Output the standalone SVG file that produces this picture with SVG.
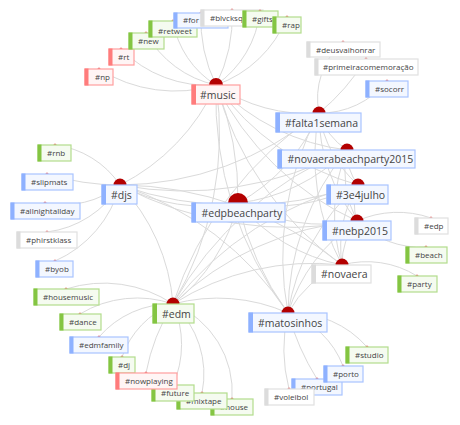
<svg xmlns="http://www.w3.org/2000/svg" width="460" height="425" viewBox="0 0 460 425">
<style>
.e{fill:none;stroke:#dadada;stroke-width:1}
.hub{fill:#b30000}
.tk{fill:#e57373}
text{font-family:"Open Sans","Liberation Sans",sans-serif;fill:#444}
.lg{font-size:10.5px}
.sm{font-size:8px}
.box{stroke-width:1.2}
.red .box{fill:#fff5f5;stroke:#ff9e9e}.red .bar{fill:#ff7c7c}
.blue .box{fill:#f3f7ff;stroke:#a9c4ff}.blue .bar{fill:#8eb1ff}
.green .box{fill:#f5fbf0;stroke:#b2dd8c}.green .bar{fill:#84c542}
.gray .box{fill:#fff;stroke:#e0e0e0}.gray .bar{fill:#dcdcdc}
</style>
<rect width="460" height="425" fill="#fff"/>
<g id="connectors">
<path class="e" d="M216 85A142 142 0 0 1 99 69"/>
<path class="e" d="M216 85A122 122 0 0 1 121 49"/>
<path class="e" d="M216 85A105 105 0 0 1 146 33"/>
<path class="e" d="M216 85A93 93 0 0 1 173 21"/>
<path class="e" d="M216 85A150 150 0 0 1 201 13"/>
<path class="e" d="M216 85A150 150 0 0 0 232 10"/>
<path class="e" d="M216 85A103 103 0 0 0 260 11"/>
<path class="e" d="M216 85A118 118 0 0 0 287 17"/>
<path class="e" d="M319 113A75 75 0 0 1 343 42"/>
<path class="e" d="M319 113A220 220 0 0 0 366 59"/>
<path class="e" d="M319 113A85 85 0 0 0 387 81"/>
<path class="e" d="M120 185A92 92 0 0 0 55 145"/>
<path class="e" d="M120 185A250 250 0 0 1 47 174"/>
<path class="e" d="M120 185A92 92 0 0 1 45 203"/>
<path class="e" d="M120 185A100 100 0 0 1 47 232"/>
<path class="e" d="M120 185A115 115 0 0 1 55 261"/>
<path class="e" d="M357 221A100 100 0 0 1 431 218"/>
<path class="e" d="M357 221A90 90 0 0 0 426 247"/>
<path class="e" d="M342 265A95 95 0 0 1 417 276"/>
<path class="e" d="M173 304A125 125 0 0 0 66 289"/>
<path class="e" d="M173 304A110 110 0 0 0 80 314"/>
<path class="e" d="M173 304A95 95 0 0 0 99 337"/>
<path class="e" d="M173 304A88 88 0 0 0 122 357"/>
<path class="e" d="M173 304A200 200 0 0 0 146 373"/>
<path class="e" d="M173 304A100 100 0 0 1 173 385"/>
<path class="e" d="M173 304A95 95 0 0 1 202 393"/>
<path class="e" d="M173 304A95 95 0 0 1 232 399"/>
<path class="e" d="M288 313A100 100 0 0 1 367 347"/>
<path class="e" d="M288 313A90 90 0 0 1 343 366"/>
<path class="e" d="M288 313A250 250 0 0 0 317 379"/>
<path class="e" d="M288 313A160 160 0 0 0 289 389"/>
<path class="e" d="M216 85A160 160 0 0 0 319 113"/>
<path class="e" d="M216 85A219 219 0 0 0 347 150"/>
<path class="e" d="M216 85A261 261 0 0 0 358 185"/>
<path class="e" d="M216 85A294 294 0 0 0 357 221"/>
<path class="e" d="M216 85A330 330 0 0 0 342 265"/>
<path class="e" d="M216 85A208 208 0 0 1 120 185"/>
<path class="e" d="M216 85A300 300 0 0 1 238 203"/>
<path class="e" d="M216 85A335 335 0 0 1 173 304"/>
<path class="e" d="M216 85A359 359 0 0 0 288 313"/>
<path class="e" d="M319 113A70 70 0 0 0 347 150"/>
<path class="e" d="M319 113A123 123 0 0 0 358 185"/>
<path class="e" d="M319 113A172 172 0 0 0 357 221"/>
<path class="e" d="M319 113A231 231 0 0 0 342 265"/>
<path class="e" d="M319 113A317 317 0 0 1 120 185"/>
<path class="e" d="M319 113A182 182 0 0 1 238 203"/>
<path class="e" d="M319 113A360 360 0 0 0 173 304"/>
<path class="e" d="M319 113A304 304 0 0 0 288 313"/>
<path class="e" d="M347 150A55 55 0 0 0 358 185"/>
<path class="e" d="M347 150A108 108 0 0 0 357 221"/>
<path class="e" d="M347 150A173 173 0 0 0 342 265"/>
<path class="e" d="M347 150A345 345 0 0 1 120 185"/>
<path class="e" d="M347 150A182 182 0 0 1 238 203"/>
<path class="e" d="M347 150A349 349 0 0 0 173 304"/>
<path class="e" d="M347 150A260 260 0 0 0 288 313"/>
<path class="e" d="M358 185A54 54 0 0 0 357 221"/>
<path class="e" d="M358 185A122 122 0 0 0 342 265"/>
<path class="e" d="M358 185A357 357 0 0 1 120 185"/>
<path class="e" d="M358 185A182 182 0 0 1 238 203"/>
<path class="e" d="M358 185A330 330 0 0 0 173 304"/>
<path class="e" d="M358 185A219 219 0 0 0 288 313"/>
<path class="e" d="M357 221A70 70 0 0 0 342 265"/>
<path class="e" d="M357 221A360 360 0 0 1 120 185"/>
<path class="e" d="M357 221A181 181 0 0 1 238 203"/>
<path class="e" d="M357 221A303 303 0 0 0 173 304"/>
<path class="e" d="M357 221A173 173 0 0 0 288 313"/>
<path class="e" d="M342 265A354 354 0 0 0 120 185"/>
<path class="e" d="M342 265A182 182 0 0 1 238 203"/>
<path class="e" d="M342 265A260 260 0 0 0 173 304"/>
<path class="e" d="M342 265A108 108 0 0 0 288 313"/>
<path class="e" d="M120 185A179 179 0 0 0 238 203"/>
<path class="e" d="M120 185A195 195 0 0 1 173 304"/>
<path class="e" d="M120 185A317 317 0 0 1 288 313"/>
<path class="e" d="M238 203A180 180 0 0 1 173 304"/>
<path class="e" d="M238 203A300 300 0 0 0 288 313"/>
<path class="e" d="M173 304A173 173 0 0 1 288 313"/>
</g>
<g id="n-music" class="red"><circle class="hub" cx="216" cy="85" r="7"/><rect class="box" x="192" y="85" width="48" height="19"/><rect class="bar" x="191.5" y="84.5" width="4.5" height="20"/><text class="lg" x="200" y="98.5">#music</text></g>
<g id="n-falta1semana" class="blue"><circle class="hub" cx="319" cy="113" r="6.5"/><rect class="box" x="276" y="113" width="85" height="19"/><rect class="bar" x="275.5" y="112.5" width="4.5" height="20"/><text class="lg" x="285" y="126.5">#falta1semana</text></g>
<g id="n-novaerabeachparty2015" class="blue"><circle class="hub" cx="347" cy="150" r="6.5"/><rect class="box" x="278" y="150" width="137" height="18"/><rect class="bar" x="277.5" y="149.5" width="4.5" height="19"/><text class="lg" x="287.5" y="163">#novaerabeachparty2015</text></g>
<g id="n-3e4julho" class="blue"><circle class="hub" cx="358" cy="185" r="6.5"/><rect class="box" x="327" y="185" width="61" height="19"/><rect class="bar" x="326.5" y="184.5" width="4.5" height="20"/><text class="lg" x="336" y="198.5">#3e4julho</text></g>
<g id="n-nebp2015" class="blue"><circle class="hub" cx="357" cy="221" r="6.5"/><rect class="box" x="323" y="221" width="68" height="19"/><rect class="bar" x="322.5" y="220.5" width="4.5" height="20"/><text class="lg" x="332" y="234.5">#nebp2015</text></g>
<g id="n-novaera" class="gray"><circle class="hub" cx="342" cy="265" r="6.5"/><rect class="box" x="312" y="265" width="59" height="18"/><rect class="bar" x="311.5" y="264.5" width="4.5" height="19"/><text class="lg" x="321" y="278">#novaera</text></g>
<g id="n-djs" class="blue"><circle class="hub" cx="120" cy="185" r="6.5"/><rect class="box" x="102" y="185" width="35" height="19"/><rect class="bar" x="101.5" y="184.5" width="4.5" height="20"/><text class="lg" x="111" y="198.5">#djs</text></g>
<g id="n-edpbeachparty" class="blue"><circle class="hub" cx="238" cy="203" r="10"/><rect class="box" x="192" y="203" width="93" height="19"/><rect class="bar" x="191.5" y="202.5" width="4.5" height="20"/><text class="lg" x="201.5" y="216.5">#edpbeachparty</text></g>
<g id="n-edm" class="green"><circle class="hub" cx="173" cy="304" r="6.5"/><rect class="box" x="153" y="304" width="41" height="19"/><rect class="bar" x="152.5" y="303.5" width="4.5" height="20"/><text class="lg" x="162" y="317.5">#edm</text></g>
<g id="n-matosinhos" class="blue"><circle class="hub" cx="288" cy="313" r="6.5"/><rect class="box" x="249" y="313" width="78" height="19"/><rect class="bar" x="248.5" y="312.5" width="4.5" height="20"/><text class="lg" x="258" y="326.5">#matosinhos</text></g>
<g id="n-np" class="red"><circle class="tk" cx="99" cy="69" r="1.5"/><rect class="box" x="85" y="69" width="28" height="16"/><rect class="bar" x="84.5" y="68.5" width="4" height="17"/><text class="sm" x="95" y="80">#np</text></g>
<g id="n-rt" class="red"><circle class="tk" cx="121" cy="49" r="1.5"/><rect class="box" x="109" y="49" width="25" height="16"/><rect class="bar" x="108.5" y="48.5" width="4" height="17"/><text class="sm" x="118" y="60">#rt</text></g>
<g id="n-new" class="green"><circle class="tk" cx="146" cy="33" r="1.5"/><rect class="box" x="129" y="33" width="35" height="16"/><rect class="bar" x="128.5" y="32.5" width="4" height="17"/><text class="sm" x="138" y="44">#new</text></g>
<g id="n-retweet" class="green"><circle class="tk" cx="173" cy="21" r="1.5"/><rect class="box" x="149" y="21" width="48" height="16"/><rect class="bar" x="148.5" y="20.5" width="4" height="17"/><text class="sm" x="158" y="33.5">#retweet</text></g>
<g id="n-for" class="blue"><circle class="tk" cx="201" cy="13" r="1.5"/><rect class="box" x="174" y="13" width="54" height="15"/><rect class="bar" x="173.5" y="12.5" width="4" height="16"/><text class="sm" x="183" y="23">#for</text></g>
<g id="n-blvcksq" class="gray"><circle class="tk" cx="232" cy="10" r="1.5"/><rect class="box" x="201" y="10" width="62" height="16"/><rect class="bar" x="200.5" y="9.5" width="4" height="17"/><text class="sm" x="210" y="21">#blvcksq</text></g>
<g id="n-gifts" class="green"><circle class="tk" cx="260" cy="11" r="1.5"/><rect class="box" x="243" y="11" width="35" height="16"/><rect class="bar" x="242.5" y="10.5" width="4" height="17"/><text class="sm" x="252" y="22">#gifts</text></g>
<g id="n-rap" class="green"><circle class="tk" cx="287" cy="17" r="1.5"/><rect class="box" x="273" y="17" width="28" height="16"/><rect class="bar" x="272.5" y="16.5" width="4" height="17"/><text class="sm" x="282" y="28">#rap</text></g>
<g id="n-deusvaihonrar" class="gray"><circle class="tk" cx="343" cy="42" r="1.5"/><rect class="box" x="307" y="42" width="73" height="15"/><rect class="bar" x="306.5" y="41.5" width="4" height="16"/><text class="sm" x="316" y="52.5">#deusvaihonrar</text></g>
<g id="n-primeiracomemoracao" class="gray"><circle class="tk" cx="366" cy="59" r="1.5"/><rect class="box" x="315" y="59" width="103" height="16"/><rect class="bar" x="314.5" y="58.5" width="4" height="17"/><text class="sm" x="323" y="70">#primeiracomemoração</text></g>
<g id="n-socorr" class="blue"><circle class="tk" cx="387" cy="81" r="1.5"/><rect class="box" x="366" y="81" width="42" height="16"/><rect class="bar" x="365.5" y="80.5" width="4" height="17"/><text class="sm" x="375" y="92">#socorr</text></g>
<g id="n-rnb" class="green"><circle class="tk" cx="55" cy="145" r="1.5"/><rect class="box" x="38" y="145" width="33" height="16"/><rect class="bar" x="37.5" y="144.5" width="4" height="17"/><text class="sm" x="47" y="156">#rnb</text></g>
<g id="n-slipmats" class="blue"><circle class="tk" cx="47" cy="174" r="1.5"/><rect class="box" x="22" y="174" width="51" height="16"/><rect class="bar" x="21.5" y="173.5" width="4" height="17"/><text class="sm" x="31" y="185">#slipmats</text></g>
<g id="n-allnightallday" class="blue"><circle class="tk" cx="45" cy="203" r="1.5"/><rect class="box" x="11" y="203" width="69" height="16"/><rect class="bar" x="10.5" y="202.5" width="4" height="17"/><text class="sm" x="20" y="214">#allnightallday</text></g>
<g id="n-phirstklass" class="gray"><circle class="tk" cx="47" cy="232" r="1.5"/><rect class="box" x="17" y="232" width="60" height="16"/><rect class="bar" x="16.5" y="231.5" width="4" height="17"/><text class="sm" x="26" y="243">#phirstklass</text></g>
<g id="n-byob" class="blue"><circle class="tk" cx="55" cy="261" r="1.5"/><rect class="box" x="36" y="261" width="37" height="16"/><rect class="bar" x="35.5" y="260.5" width="4" height="17"/><text class="sm" x="45" y="272">#byob</text></g>
<g id="n-edp" class="gray"><circle class="tk" cx="431" cy="218" r="1.5"/><rect class="box" x="415" y="218" width="33" height="16"/><rect class="bar" x="414.5" y="217.5" width="4" height="17"/><text class="sm" x="424" y="229">#edp</text></g>
<g id="n-beach" class="green"><circle class="tk" cx="426" cy="247" r="1.5"/><rect class="box" x="406" y="247" width="41" height="16"/><rect class="bar" x="405.5" y="246.5" width="4" height="17"/><text class="sm" x="415" y="258">#beach</text></g>
<g id="n-party" class="green"><circle class="tk" cx="417" cy="276" r="1.5"/><rect class="box" x="398" y="276" width="39" height="16"/><rect class="bar" x="397.5" y="275.5" width="4" height="17"/><text class="sm" x="407" y="287">#party</text></g>
<g id="n-housemusic" class="green"><circle class="tk" cx="66" cy="289" r="1.5"/><rect class="box" x="34" y="289" width="65" height="16"/><rect class="bar" x="33.5" y="288.5" width="4" height="17"/><text class="sm" x="43" y="300">#housemusic</text></g>
<g id="n-dance" class="green"><circle class="tk" cx="80" cy="314" r="1.5"/><rect class="box" x="60" y="314" width="41" height="16"/><rect class="bar" x="59.5" y="313.5" width="4" height="17"/><text class="sm" x="69" y="325">#dance</text></g>
<g id="n-edmfamily" class="blue"><circle class="tk" cx="99" cy="337" r="1.5"/><rect class="box" x="70" y="337" width="58" height="16"/><rect class="bar" x="69.5" y="336.5" width="4" height="17"/><text class="sm" x="79" y="348">#edmfamily</text></g>
<g id="n-dj" class="green"><circle class="tk" cx="122" cy="357" r="1.5"/><rect class="box" x="109" y="357" width="26" height="16"/><rect class="bar" x="108.5" y="356.5" width="4" height="17"/><text class="sm" x="118" y="368">#dj</text></g>
<g id="n-house" class="green"><circle class="tk" cx="232" cy="399" r="1.5"/><rect class="box" x="211" y="399" width="42" height="16"/><rect class="bar" x="210.5" y="398.5" width="4" height="17"/><text class="sm" x="220" y="410">#house</text></g>
<g id="n-mixtape" class="green"><circle class="tk" cx="202" cy="393" r="1.5"/><rect class="box" x="177" y="393" width="50" height="16"/><rect class="bar" x="176.5" y="392.5" width="4" height="17"/><text class="sm" x="186" y="404">#mixtape</text></g>
<g id="n-future" class="green"><circle class="tk" cx="173" cy="385" r="1.5"/><rect class="box" x="152" y="385" width="42" height="16"/><rect class="bar" x="151.5" y="384.5" width="4" height="17"/><text class="sm" x="161" y="396">#future</text></g>
<g id="n-nowplaying" class="red"><circle class="tk" cx="146" cy="373" r="1.5"/><rect class="box" x="116" y="373" width="61" height="16"/><rect class="bar" x="115.5" y="372.5" width="4" height="17"/><text class="sm" x="125" y="384">#nowplaying</text></g>
<g id="n-studio" class="green"><circle class="tk" cx="367" cy="347" r="1.5"/><rect class="box" x="346" y="347" width="42" height="16"/><rect class="bar" x="345.5" y="346.5" width="4" height="17"/><text class="sm" x="355" y="358">#studio</text></g>
<g id="n-portugal" class="blue"><circle class="tk" cx="317" cy="379" r="1.5"/><rect class="box" x="292" y="379" width="50" height="16"/><rect class="bar" x="291.5" y="378.5" width="4" height="17"/><text class="sm" x="301" y="390">#portugal</text></g>
<g id="n-porto" class="blue"><circle class="tk" cx="343" cy="366" r="1.5"/><rect class="box" x="324" y="366" width="39" height="16"/><rect class="bar" x="323.5" y="365.5" width="4" height="17"/><text class="sm" x="333" y="377">#porto</text></g>
<g id="n-voleibol" class="gray"><circle class="tk" cx="289" cy="389" r="1.5"/><rect class="box" x="265" y="389" width="49" height="16"/><rect class="bar" x="264.5" y="388.5" width="4" height="17"/><text class="sm" x="274" y="400">#voleibol</text></g>
</svg>
